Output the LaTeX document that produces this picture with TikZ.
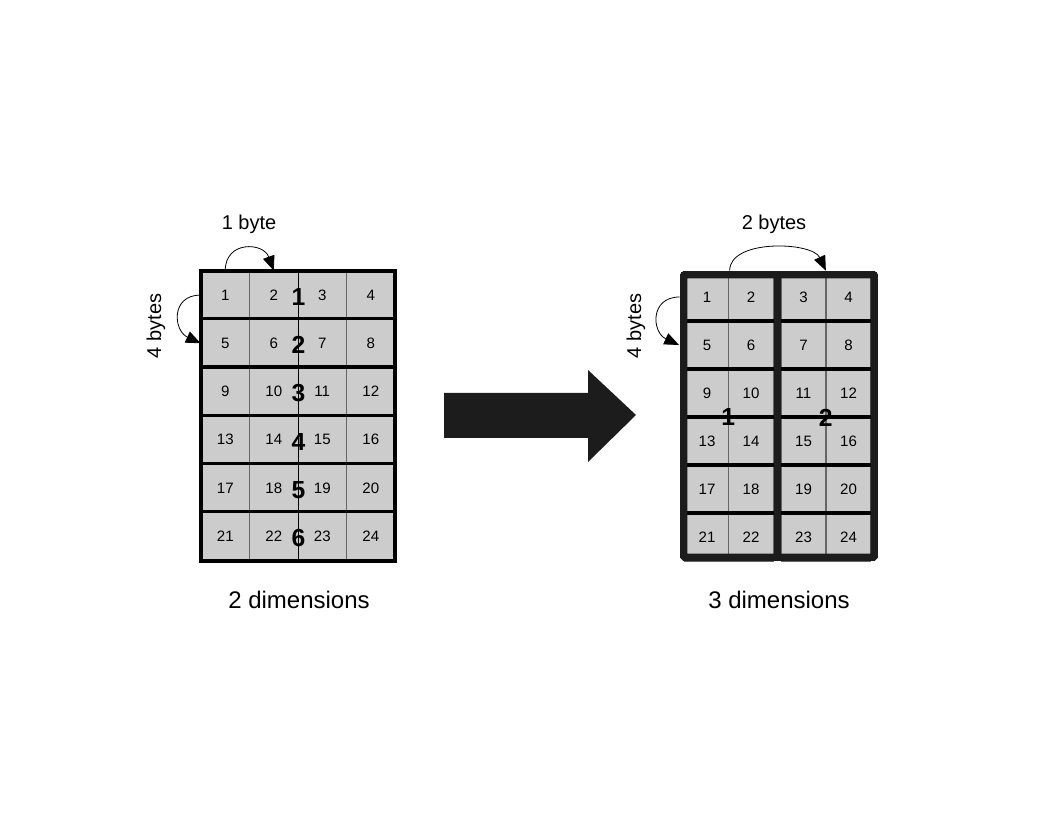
\documentclass[tikz,border=0pt]{standalone}
\usepackage{fontspec}
\setmainfont{Liberation Sans}
\usetikzlibrary{arrows.meta}
\usetikzlibrary{positioning}
\definecolor{cellgray}{HTML}{CCCCCC}
\definecolor{framegray}{HTML}{1C1C1C}
\tikzset{cell node/.style={rectangle,fill=cellgray,draw=black!60,line width=0.6pt,inner sep=0pt,font=\fontsize{11.3}{13}\selectfont}}
\tikzset{big num/.style={font=\fontsize{18.5}{20}\selectfont\bfseries,inner sep=0pt}}
\tikzset{hop/.style={-{Triangle[length=11pt,width=9pt]},line width=0.6pt}}
\tikzset{label node/.style={font=\fontsize{15}{17}\selectfont,inner sep=0pt}}
\tikzset{caption node/.style={font=\fontsize{18}{20}\selectfont,inner sep=0pt}}

\begin{document}
\begin{tikzpicture}[x=0.75pt,y=0.75pt]
    \useasboundingbox (0,0) rectangle (1056,816);

    % left grid: 6 rows of 4 bytes
    \foreach \r in {0,...,5}
      \foreach \c in {0,...,3} {
        \pgfmathtruncatemacro{\n}{4*\r+\c+1}
        \node[cell node,minimum width=36.4pt,minimum height=36.1pt] (l\n) at (225.25+48.5*\c, 520.9-48.2*\r) {\n};
      }
    \draw[line width=0.9pt] (l2.north east) -- (l22.south east);
    \foreach \n in {5,9,13,17,21} {
        \pgfmathtruncatemacro{\m}{\n+3}
        \draw[line width=2.4pt] (l\n.north west) -- (l\m.north east);
    }
    \draw[line width=3pt] (l1.north west) rectangle (l24.south east);
    \foreach \r in {1,...,6} {
        \pgfmathtruncatemacro{\n}{4*\r-2}
        \node[big num,yshift=-1.5pt] (lrow\r) at (l\n.east) {\r};
    }

    \node[label node] (onebyte) at (249,592) {1 byte};
    \draw[hop] (l1.north) to[out=90,in=110,looseness=1.6] (l2.north);
    \node[label node,rotate=90] (fourbytesl) at (156,490) {4 bytes};
    \draw[hop] (l1.west) to[out=180,in=155,looseness=1.6] (l5.west);
    \node[caption node] (twodim) at (299,216) {2 dimensions};

    % big arrow
    \fill[framegray] (444,423) -- (588,423) -- (588,446) -- (636,401) -- (588,354) -- (588,378) -- (444,378) -- cycle;

    % right grid: 2 blocks of 2 bytes
    \foreach \r in {0,...,5}
      \foreach \c/\x in {0/707,1/751,2/803.5,3/848.5} {
        \pgfmathtruncatemacro{\n}{4*\r+\c+1}
        \node[cell node,minimum width=33.4pt,minimum height=36pt] (r\n) at (\x, 519-48*\r) {\n};
      }
    \foreach \n in {5,9,13,17,21} {
        \pgfmathtruncatemacro{\m}{\n+3}
        \draw[line width=3pt] (r\n.north west) -- (r\m.north east);
    }
    \fill[framegray] (r2.north east) rectangle (r23.south west);
    \draw[framegray,line width=5.5pt,rounded corners=0.8pt] (683.7,541.3) rectangle (874.3,258.7);
    \draw[framegray,line width=2pt] (681,543) -- (877,543);
    \node[big num] (rblk1) at (r10.south west) {1};
    \node[big num] (rblk2) at (r12.south west) {2};

    \node[label node] (twobytes) at (774,592) {2 bytes};
    \draw[hop] ([yshift=1.5pt]r1.north east) to[out=90,in=115,looseness=0.85] ([yshift=1.5pt]r4.north west);
    \node[label node,rotate=90] (fourbytesr) at (636,490) {4 bytes};
    \draw[hop] ([xshift=-3.5pt]r1.west) to[out=180,in=155,looseness=1.6] ([xshift=-4pt]r5.west);
    \node[caption node] (threedim) at (779,216) {3 dimensions};
\end{tikzpicture}
\end{document}
